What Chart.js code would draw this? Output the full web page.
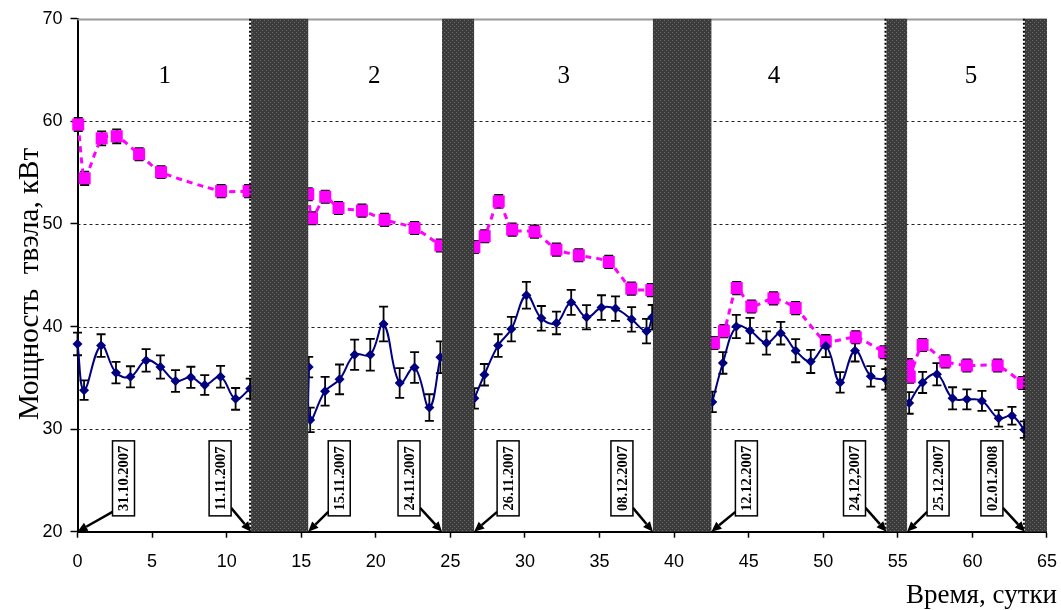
<!DOCTYPE html>
<html>
<head>
<meta charset="utf-8">
<script src="https://cdn.jsdelivr.net/npm/chart.js@4/dist/chart.umd.min.js"></script>
<style>
  html, body { margin: 0; padding: 0; background: #fff; }
  #wrap { width: 1061px; height: 610px; }
</style>
</head>
<body>
<div id="wrap"><canvas id="c" width="1061" height="610"></canvas></div>
<script>
// Fuel rod power over five irradiation periods separated by reactor pauses.

const yTicks = [20, 30, 40, 50, 60, 70];
const xTicks = [0, 5, 10, 15, 20, 25, 30, 35, 40, 45, 50, 55, 60, 65];

// Measured power, kW (navy, with error bars)
const tNavy = [0, 0.44, 1.58, 2.58, 3.55, 4.6, 5.56, 6.57, 7.6, 8.53, 9.59, 10.6, 11.58,
  15.5, 15.6, 16.6, 17.57, 18.58, 19.63, 20.52, 21.6, 22.6, 23.59, 24.33,
  26.61, 27.28, 28.2, 29.09, 30.1, 31.1, 32.11, 33.1, 34.13, 35.13, 36.07, 37.15, 38.15, 38.53,
  42.56, 43.27, 44.17, 45.09, 46.19, 47.15, 48.15, 49.16, 50.17, 51.13, 52.13, 53.19, 54.19,
  55.76, 56.66, 57.62, 58.67, 59.63, 60.64, 61.76, 62.65, 63.48];
const pNavy = [38.3, 33.8, 38.15, 35.5, 35.1, 36.7, 36.05, 34.7, 35.05, 34.3, 35.1, 32.95, 33.95,
  36.05, 30.9, 33.7, 34.85, 37.25, 37.25, 40.25, 34.5, 36.0, 32.1, 37.0,
  33.0, 35.3, 38.15, 39.75, 43.05, 40.8, 40.35, 42.35, 40.9, 41.85, 41.75, 40.7, 39.55, 40.9,
  32.65, 36.45, 40.0, 39.6, 38.4, 39.35, 37.65, 36.6, 38.1, 34.55, 37.65, 35.15, 34.85,
  32.55, 34.55, 35.35, 33.0, 32.9, 32.75, 31.05, 31.3, 29.95];
const eNavy = [1.1, 0.95, 1.1, 1.05, 1.03, 1.1, 1.13, 1.06, 1.03, 0.97, 1.06, 1.06, 0.97,
  1.0, 1.2, 1.4, 1.45, 1.48, 1.55, 1.7, 1.45, 1.5, 1.3, 1.55,
  1.0, 1.05, 1.1, 1.2, 1.3, 1.2, 1.1, 1.22, 1.18, 1.2, 1.2, 1.2, 1.2, 1.2,
  1.0, 1.05, 1.13, 1.24, 1.13, 1.1, 1.13, 1.13, 1.08, 1.0, 1.06, 1.0, 1.0,
  1.05, 1.03, 1.08, 1.08, 0.97, 0.97, 0.8, 0.87, 0.8];

// Calculated power, kW (magenta, with error bars)
const tPink = [0.05, 0.48, 1.62, 2.63, 4.13, 5.6, 9.63, 11.47,
  15.47, 15.72, 16.61, 17.5, 19.07, 20.59, 22.6, 24.33,
  26.61, 27.3, 28.24, 29.14, 30.64, 32.11, 33.61, 35.62, 37.13, 38.47,
  42.67, 43.34, 44.2, 45.18, 46.66, 48.15, 50.17, 52.18, 54.08,
  55.7, 55.8, 56.66, 58.18, 59.63, 61.69, 63.37];
const pPink = [59.7, 54.45, 58.35, 58.55, 56.8, 55.05, 53.2, 53.2,
  52.9, 50.55, 52.65, 51.55, 51.3, 50.4, 49.6, 47.9,
  47.75, 48.8, 52.2, 49.45, 49.25, 47.5, 46.95, 46.3, 43.7, 43.55,
  38.4, 39.55, 43.75, 41.95, 42.75, 41.8, 38.55, 38.95, 37.5,
  36.2, 35.1, 38.2, 36.6, 36.2, 36.2, 34.5];
const ePink = [0.65, 0.65, 0.68, 0.68, 0.6, 0.58, 0.6, 0.6,
  0.6, 0.6, 0.6, 0.6, 0.6, 0.6, 0.6, 0.6,
  0.6, 0.6, 0.64, 0.6, 0.6, 0.6, 0.6, 0.6, 0.6, 0.6,
  0.6, 0.6, 0.6, 0.6, 0.6, 0.6, 0.6, 0.6, 0.6,
  0.65, 0.6, 0.6, 0.6, 0.6, 0.6, 0.6];

// Reactor pauses, days
const pauseStart = [11.64, 24.44, 38.58, 54.24, 63.52];
const pauseEnd = [15.47, 26.59, 42.5, 55.62, 65];

const periodLabels = ['1', '2', '3', '4', '5'];
const dateLabels = ['31.10.2007', '11.11.2007', '15.11.2007', '24.11.2007', '26.11.2007',
  '08.12.2007', '12.12.2007', '24,12,2007', '25.12.2007', '02.01.2008'];
const dateDays = [0, 11.64, 15.47, 24.44, 26.59, 38.58, 42.5, 54.24, 55.62, 63.52];

const yTitle = 'Мощность  твэла, кВт';
const xTitle = 'Время, сутки';

const SERIF = '"Liberation Serif", "Times New Roman", serif';
const SANS = '"Liberation Sans", Arial, sans-serif';

// points as {x, y}; a null point breaks the curve inside each pause
function toXY(ts, vs) {
  const out = [];
  ts.forEach((t, i) => {
    if (i > 0) {
      pauseStart.forEach((s, k) => {
        if (ts[i - 1] < s && t > s) out.push({ x: (s + pauseEnd[k]) / 2, y: null });
      });
    }
    out.push({ x: t, y: vs[i] });
  });
  return out;
}

function makePauseFill(ctx) {
  const tile = document.createElement('canvas');
  tile.width = 4; tile.height = 4;
  const g = tile.getContext('2d');
  g.fillStyle = '#3b3b3b'; g.fillRect(0, 0, 4, 4);
  g.fillStyle = '#6c6c6c'; g.fillRect(0, 0, 1, 1); g.fillRect(2, 2, 1, 1);
  return ctx.createPattern(tile, 'repeat');
}

// horizontal dotted grid + top frame line, then error bars, under the series
const underlay = {
  id: 'underlay',
  beforeDatasetsDraw(chart) {
    const { ctx, chartArea: a, scales: { x, y } } = chart;
    ctx.save();
    yTicks.forEach(v => {
      const py = Math.round(y.getPixelForValue(v)) + 0.5;
      if (v === 20) return;
      ctx.beginPath();
      if (v === 70) {
        ctx.setLineDash([]); ctx.strokeStyle = '#9a9a9a'; ctx.lineWidth = 2;
      } else {
        ctx.setLineDash([3, 3]); ctx.strokeStyle = '#222'; ctx.lineWidth = 1;
      }
      ctx.moveTo(a.left, py); ctx.lineTo(a.right, py); ctx.stroke();
    });
    ctx.setLineDash([]);
    ctx.strokeStyle = '#000'; ctx.lineWidth = 1.8;
    [[tNavy, pNavy, eNavy], [tPink, pPink, ePink]].forEach(([ts, vs, es]) => {
      ts.forEach((t, i) => {
        const px = x.getPixelForValue(t);
        const y1 = y.getPixelForValue(vs[i] + es[i]);
        const y2 = y.getPixelForValue(vs[i] - es[i]);
        ctx.beginPath();
        ctx.moveTo(px, y1); ctx.lineTo(px, y2);
        ctx.moveTo(px - 4.5, y1); ctx.lineTo(px + 4.5, y1);
        ctx.moveTo(px - 4.5, y2); ctx.lineTo(px + 4.5, y2);
        ctx.stroke();
      });
    });
    ctx.restore();
  }
};

// pauses, period numbers, date callouts and axis titles on top
const overlay = {
  id: 'overlay',
  afterDatasetsDraw(chart) {
    const { ctx, chartArea: a, scales: { x, y } } = chart;
    ctx.save();
    const fill = makePauseFill(ctx);
    pauseStart.forEach((s, i) => {
      const x1 = x.getPixelForValue(s), x2 = Math.min(x.getPixelForValue(pauseEnd[i]), a.right);
      ctx.fillStyle = fill;
      ctx.fillRect(x1, a.top, x2 - x1, a.bottom - a.top);
    });
    // dotted edges on the pauses that start a new date block
    [0, 3, 4].forEach(i => {
      const px = x.getPixelForValue(pauseStart[i]) - 1;
      ctx.beginPath();
      ctx.setLineDash([2, 2]);
      ctx.strokeStyle = '#000'; ctx.lineWidth = 2;
      ctx.moveTo(px, a.top); ctx.lineTo(px, a.bottom); ctx.stroke();
    });
    ctx.setLineDash([]);

    // period numbers
    const periodAt = [5.85, 19.9, 32.6, 46.7, 59.9];
    ctx.fillStyle = '#000';
    ctx.font = '25px ' + SERIF;
    ctx.textAlign = 'center'; ctx.textBaseline = 'middle';
    periodLabels.forEach((t, i) => {
      ctx.fillText(t, x.getPixelForValue(periodAt[i]), y.getPixelForValue(64.4));
    });

    // date callouts: boxed vertical text with an arrow to the axis
    const boxShift = [46, -31, 31, -33, 34, -31, 35, -32, 31, -33];
    const bw = 22, bh = 75;
    const by = y.getPixelForValue(25.2);
    dateLabels.forEach((label, i) => {
      const tx = x.getPixelForValue(dateDays[i]);
      const ty = a.bottom;
      const cx = tx + boxShift[i];
      const left = cx - bw / 2, top = by - bh / 2;
      // arrow
      const sx = boxShift[i] > 0 ? left : left + bw;
      const sy = boxShift[i] > 0 ? top + bh - 4 : top + bh - 8;
      const ang = Math.atan2(ty - sy, tx - sx);
      const hl = 10, hw = 4.5;
      const ex = tx - Math.cos(ang) * hl, ey = ty - Math.sin(ang) * hl;
      ctx.strokeStyle = '#000'; ctx.lineWidth = 2.5;
      ctx.beginPath(); ctx.moveTo(sx, sy); ctx.lineTo(ex, ey); ctx.stroke();
      ctx.fillStyle = '#000';
      ctx.beginPath();
      ctx.moveTo(tx, ty);
      ctx.lineTo(ex + Math.sin(ang) * hw, ey - Math.cos(ang) * hw);
      ctx.lineTo(ex - Math.sin(ang) * hw, ey + Math.cos(ang) * hw);
      ctx.closePath(); ctx.fill();
      // box
      ctx.fillStyle = '#fff';
      ctx.fillRect(left, top, bw, bh);
      ctx.lineWidth = 1.5;
      ctx.strokeRect(left, top, bw, bh);
      ctx.save();
      ctx.translate(cx, by);
      ctx.rotate(-Math.PI / 2);
      ctx.fillStyle = '#000';
      ctx.font = 'bold 14.5px ' + SERIF;
      ctx.textAlign = 'center'; ctx.textBaseline = 'middle';
      ctx.fillText(label, 0, 1);
      ctx.restore();
    });

    // axis titles
    ctx.fillStyle = '#000';
    ctx.font = '29px ' + SERIF;
    ctx.save();
    ctx.translate(30, 284);
    ctx.rotate(-Math.PI / 2);
    ctx.textAlign = 'center'; ctx.textBaseline = 'middle';
    ctx.fillText(yTitle, 0, 0);
    ctx.restore();
    ctx.font = '27px ' + SERIF;
    ctx.textAlign = 'right'; ctx.textBaseline = 'alphabetic';
    ctx.fillText(xTitle, 1057, 603);
    ctx.restore();
  }
};

new Chart(document.getElementById('c'), {
  type: 'line',
  data: {
    datasets: [
      {
        data: toXY(tNavy, pNavy),
        borderColor: '#000080', backgroundColor: '#000080',
        borderWidth: 2, tension: 0.4, spanGaps: false,
        pointStyle: 'rectRot', pointRadius: 5,
        pointBackgroundColor: '#000080', pointBorderColor: '#000080', pointBorderWidth: 0,
        clip: false
      },
      {
        data: toXY(tPink, pPink),
        borderColor: '#ff00ff', backgroundColor: '#ff00ff',
        borderWidth: 3, borderDash: [6, 5], tension: 0.2, spanGaps: false,
        pointStyle: 'rect', pointRadius: 8.5,
        pointBackgroundColor: '#ff00ff', pointBorderColor: '#ff00ff', pointBorderWidth: 0,
        clip: false
      }
    ]
  },
  options: {
    responsive: false,
    animation: false,
    devicePixelRatio: 1,
    events: [],
    layout: { padding: { top: 14, right: 14, bottom: 0, left: 0 } },
    plugins: { legend: { display: false }, tooltip: { enabled: false }, title: { display: false } },
    scales: {
      x: {
        type: 'linear', min: 0, max: 65,
        afterBuildTicks: s => { s.ticks = xTicks.map(v => ({ value: v })); },
        ticks: { font: { family: SANS, size: 18, lineHeight: 2.3 }, color: '#000', padding: 4, maxRotation: 0, autoSkip: false },
        grid: { drawOnChartArea: false, drawTicks: true, tickLength: 6, tickColor: '#000', tickWidth: 1.5 },
        border: { color: '#000', width: 2 },
        afterFit: s => { s.height = 78.3; }
      },
      y: {
        type: 'linear', min: 20, max: 70,
        afterBuildTicks: s => { s.ticks = yTicks.map(v => ({ value: v })); },
        ticks: { font: { family: SANS, size: 18 }, color: '#000', padding: 8 },
        grid: { drawOnChartArea: false, drawTicks: true, tickLength: 7, tickColor: '#000', tickWidth: 1.5 },
        border: { color: '#000', width: 2 },
        afterFit: s => { s.width = 77.5; }
      }
    }
  },
  plugins: [underlay, overlay]
});
</script>
</body>
</html>
